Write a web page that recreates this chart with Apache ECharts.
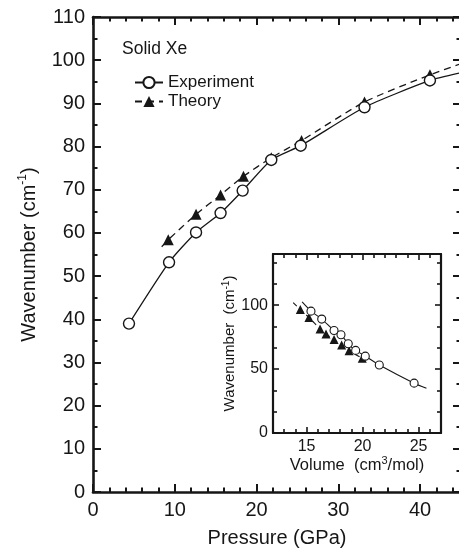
<!DOCTYPE html>
<html><head><meta charset="utf-8">
<script src="https://cdn.jsdelivr.net/npm/echarts@6/dist/echarts.min.js"></script>
<style>html,body{margin:0;padding:0;background:#fff}#c{width:459px;height:551px}</style>
</head><body><div id="c"></div>
<script>
// ---- Main panel: pressure (GPa) vs wavenumber (cm^-1) ----
const expPressure    = [4.4, 9.3, 12.6, 15.6, 18.3, 21.8, 25.4, 33.2, 41.2];
const expWave        = [39.0, 53.2, 60.1, 64.6, 69.8, 76.9, 80.2, 89.1, 95.3];
const theoryPressure = [9.2, 12.6, 15.6, 18.4, 21.8, 25.5, 33.2, 41.2];
const theoryWave     = [58.4, 64.3, 68.8, 73.1, 77.4, 81.4, 90.3, 96.6];
// fitted-curve ends
const expCurveEnd      = [45, 97.1];
const theoryCurveStart = [8.4, 56.8];
const theoryCurveEnd   = [45, 99.2];

// ---- Inset: volume (cm^3/mol) vs wavenumber ----
const expVolume       = [15.39, 16.35, 17.45, 18.07, 18.72, 19.38, 20.24, 21.49, 24.6];
const expWaveInset    = [95.3, 89.1, 80.2, 76.9, 69.8, 64.6, 60.1, 53.2, 39.0];
const theoryVolume    = [14.44, 15.21, 16.2, 16.73, 17.45, 18.13, 18.79, 19.97];
const theoryWaveInset = [96.6, 90.3, 81.4, 77.4, 73.1, 68.8, 64.3, 58.4];
const expInsetStart    = [14.6, 102.5];
const expInsetEnd      = [25.7, 35.0];
const theoryInsetStart = [13.8, 102.0];

// ---- Tick labels ----
const insetXTicks = [15, 20, 25];
const insetXMinor = [12,13,14,16,17,18,19,21,22,23,24,26,27];
const insetYTicks = [0, 50, 100];
const insetYMinor = [16.667, 33.333, 66.667, 83.333, 116.667, 133.333];

const FONT = '"Liberation Sans", Arial, Helvetica, sans-serif';
const INK = '#161616';

function pts(xs, ys) { return xs.map((x, i) => [x, ys[i]]); }

// main panel axes: regular intervals (min 0 is a multiple of each interval)
function mainAxis(pos, max, interval, o) {
  const ax = {
    type: 'value', gridIndex: 0, position: pos, min: 0, max: max, interval: interval, z: 4,
    splitLine: {show: false}, minorTick: {show: false},
    axisLine: {show: !o.minor, onZero: false, lineStyle: {color: INK, width: 2.6}},
    axisTick: {show: true, inside: true, length: o.minor ? 4.5 : 8, lineStyle: {color: INK, width: 2}},
    axisLabel: o.labels ? {show: true, fontSize: 20, color: INK, fontFamily: FONT, margin: 8,
                           showMaxLabel: o.showMax} : {show: false}
  };
  if (o.name) {
    ax.name = o.name; ax.nameLocation = 'middle'; ax.nameGap = o.nameGap; ax.nameTextStyle = o.nameStyle;
  }
  return ax;
}

// inset axes: custom tick positions
function insetPair(pos, min, max, major, minor, o) {
  const base = {type: 'value', gridIndex: 1, position: pos, min: min, max: max,
                splitLine: {show: false}, z: 10};
  const majorAx = Object.assign({}, base, {
    axisLine: {show: true, onZero: false, lineStyle: {color: INK, width: 2.2}},
    axisTick: {show: true, inside: true, length: 6, customValues: major, lineStyle: {color: INK, width: 1.6}},
    axisLabel: o.labels ? {show: true, customValues: major, fontSize: 16, color: INK,
               fontFamily: FONT, margin: o.margin} : {show: false}
  });
  if (o.name) {
    majorAx.name = o.name; majorAx.nameLocation = 'middle'; majorAx.nameGap = o.nameGap;
    majorAx.nameTextStyle = o.nameStyle;
  }
  const minorAx = Object.assign({}, base, {
    axisLine: {show: false, onZero: false},
    axisTick: {show: true, inside: true, length: 4, customValues: minor, lineStyle: {color: INK, width: 1.6}},
    axisLabel: {show: false}
  });
  return [majorAx, minorAx];
}

const mainNameY = {
  rich: {
    a: {fontSize: 20, fontFamily: FONT, color: INK, lineHeight: 24},
    s: {fontSize: 12, fontFamily: FONT, color: INK, verticalAlign: 'top', lineHeight: 24, padding: [0, 0, 9, 0]}
  }
};
const insetNameY = {
  rich: {
    a: {fontSize: 15, fontFamily: FONT, color: INK, lineHeight: 18},
    s: {fontSize: 10, fontFamily: FONT, color: INK, verticalAlign: 'top', lineHeight: 18, padding: [0, 0, 6, 0]}
  }
};
const insetNameX = {
  rich: {
    a: {fontSize: 16.5, fontFamily: FONT, color: INK, lineHeight: 19},
    s: {fontSize: 11, fontFamily: FONT, color: INK, verticalAlign: 'top', lineHeight: 19, padding: [0, 0, 7, 0]}
  }
};

const xAxes = [
  mainAxis('bottom', 45, 10, {labels: true, showMax: false, name: 'Pressure (GPa)', nameGap: 36,
    nameStyle: {fontSize: 20, fontFamily: FONT, color: INK}}),
  mainAxis('bottom', 45, 2, {minor: true}),
  mainAxis('top', 45, 10, {}),
  mainAxis('top', 45, 2, {minor: true})
].concat(
  insetPair('bottom', 12, 27, insetXTicks, insetXMinor,
    {labels: true, margin: 6, name: '{a|Volume  (cm}{s|3}{a|/mol)}', nameGap: 21, nameStyle: insetNameX}),
  insetPair('top', 12, 27, insetXTicks, insetXMinor, {labels: false})
);
const yAxes = [
  mainAxis('left', 110, 10, {labels: true, showMax: true, name: '{a|Wavenumber (cm}{s|-1}{a|)}', nameGap: 52,
    nameStyle: mainNameY}),
  mainAxis('left', 110, 5, {minor: true}),
  mainAxis('right', 110, 10, {}),
  mainAxis('right', 110, 5, {minor: true})
].concat(
  insetPair('left', 0, 140, insetYTicks, insetYMinor,
    {labels: true, margin: 5, name: '{a|Wavenumber  (cm}{s|-1}{a|)}', nameGap: 29, nameStyle: insetNameY}),
  insetPair('right', 0, 140, insetYTicks, insetYMinor, {labels: false})
);

const expMain = [].concat(pts(expPressure, expWave), [{value: expCurveEnd, symbol: 'none'}]);
const theoryMain = [].concat([{value: theoryCurveStart, symbol: 'none'}], pts(theoryPressure, theoryWave),
                             [{value: theoryCurveEnd, symbol: 'none'}]);
const expInset = [].concat([{value: expInsetStart, symbol: 'none'}], pts(expVolume, expWaveInset),
                           [{value: expInsetEnd, symbol: 'none'}]);
const theoryInset = [].concat([{value: theoryInsetStart, symbol: 'none'}], pts(theoryVolume, theoryWaveInset));

const chart = echarts.init(document.getElementById('c'), null, {renderer: 'canvas'});
chart.setOption({
  animation: false,
  backgroundColor: '#fff',
  textStyle: {fontFamily: FONT},
  title: {text: 'Solid Xe', left: 122, top: 40, padding: 0,
          textStyle: {fontSize: 17.5, fontWeight: 'normal', color: INK, fontFamily: FONT}},
  legend: {
    data: ['Experiment', 'Theory'], orient: 'vertical', left: 134, top: 74,
    itemWidth: 28, itemHeight: 14, itemGap: 2, padding: 0,
    textStyle: {fontSize: 17, lineHeight: 16, color: INK, fontFamily: FONT}
  },
  grid: [
    {left: 93, top: 17, width: 368, height: 475, containLabel: false, outerBoundsMode: 'none'},
    {left: 273, top: 254, width: 168, height: 179, containLabel: false, outerBoundsMode: 'none',
     show: true, backgroundColor: '#fff', borderWidth: 0}
  ],
  xAxis: xAxes,
  yAxis: yAxes,
  series: [
    {name: 'Theory', type: 'line', xAxisIndex: 0, yAxisIndex: 0, data: theoryMain,
     smooth: 0.25, symbol: 'triangle', symbolSize: 11, z: 2,
     itemStyle: {color: INK}, lineStyle: {color: INK, width: 1.3, type: [7, 5]}},
    {name: 'Experiment', type: 'line', xAxisIndex: 0, yAxisIndex: 0, data: expMain,
     smooth: 0.2, symbol: 'circle', symbolSize: 11, z: 3,
     itemStyle: {color: '#fff', borderColor: INK, borderWidth: 1.4}, lineStyle: {color: INK, width: 1.3}},
    {name: 'Theory (inset)', type: 'line', xAxisIndex: 4, yAxisIndex: 4, data: theoryInset,
     smooth: 0.2, symbol: 'triangle', symbolSize: 9, z: 6,
     itemStyle: {color: INK}, lineStyle: {color: INK, width: 1.1, type: [5, 4]}},
    {name: 'Experiment (inset)', type: 'line', xAxisIndex: 4, yAxisIndex: 4, data: expInset,
     smooth: 0.2, symbol: 'circle', symbolSize: 8, z: 7,
     itemStyle: {color: '#fff', borderColor: INK, borderWidth: 1.1}, lineStyle: {color: INK, width: 1.1}}
  ]
});
</script>
</body></html>
